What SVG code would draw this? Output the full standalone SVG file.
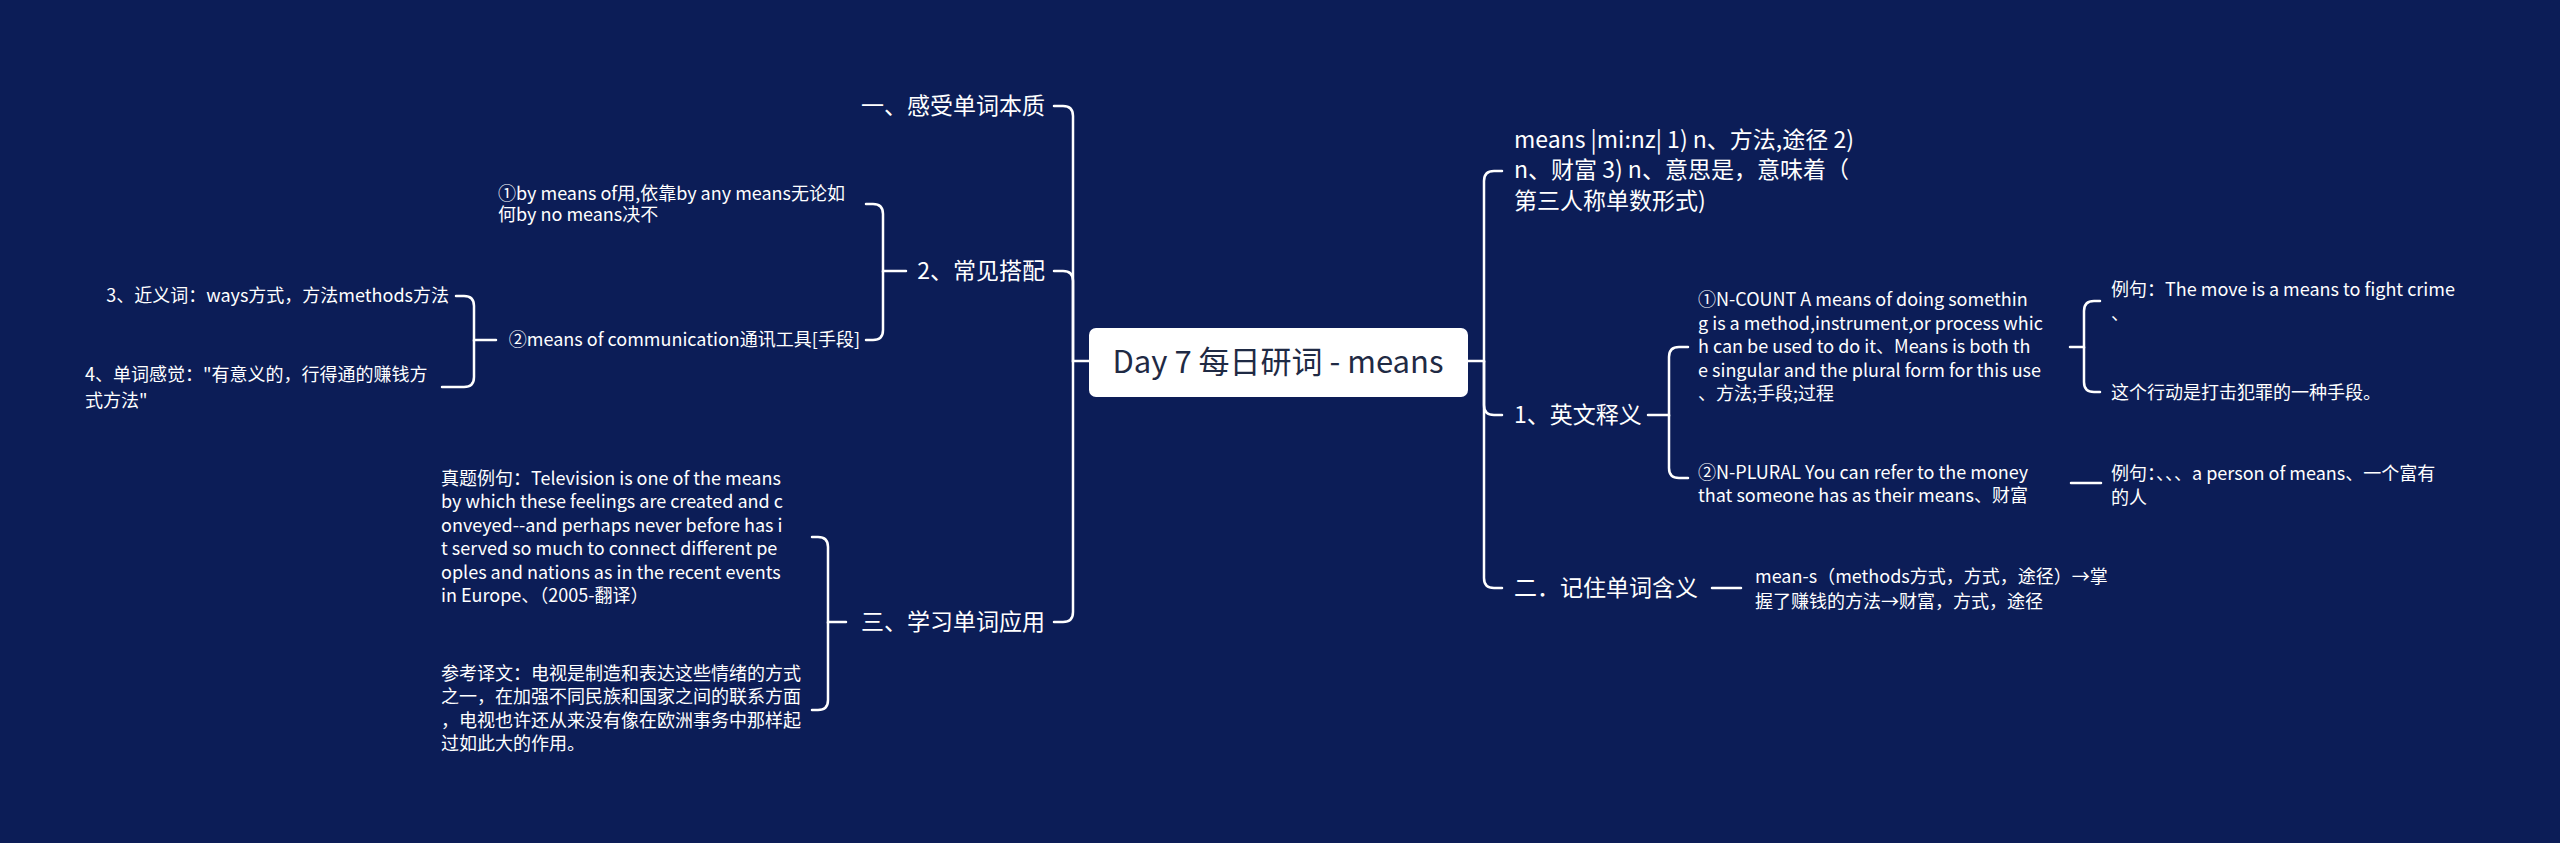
<svg xmlns="http://www.w3.org/2000/svg" width="2560" height="843" viewBox="0 0 2560 843">
<style>
.bg{fill:#0c1d57}
.c path{fill:none;stroke:#ffffff;stroke-width:2.5;stroke-linecap:round}
text{font-family:"Noto Sans CJK SC","Noto Sans",sans-serif;fill:#ffffff}
.l{font-size:23px}
.s{font-size:18px}
.e{text-anchor:end}
</style>
<rect class="bg" width="2560" height="843"/>
<g class="c">
<path d="M1089 361H1073V116Q1073 106 1063 106H1054"/>
<path d="M1073 361V281Q1073 271 1063 271H1054"/>
<path d="M1073 361V612Q1073 622 1063 622H1054"/>
<path d="M906 271H883V214Q883 204 873 204H866"/>
<path d="M883 271V330Q883 340 873 340H866"/>
<path d="M496 340H474V306Q474 296 464 296H456"/>
<path d="M474 340V377Q474 387 464 387H442"/>
<path d="M846 622H828V547Q828 537 818 537H812"/>
<path d="M828 622V700Q828 710 818 710H812"/>
<path d="M1468 361H1484V181Q1484 171 1494 171H1502"/>
<path d="M1484 361V405Q1484 415 1494 415H1502"/>
<path d="M1484 361V578Q1484 588 1494 588H1502"/>
<path d="M1648 415H1669V357Q1669 347 1679 347H1688"/>
<path d="M1669 415V468Q1669 478 1679 478H1688"/>
<path d="M2070 347H2084V311Q2084 301 2094 301H2100"/>
<path d="M2084 347V382Q2084 392 2094 392H2100"/>
<path d="M2071 483H2101"/>
<path d="M1712 588H1741"/>
</g>
<g id="center">
<rect x="1089" y="328" width="379" height="69" rx="7" fill="#ffffff"/>
<text x="1278" y="373" font-size="31" text-anchor="middle" style="fill:#1f2a44">Day 7 每日研词 - means</text>
</g>
<g id="n1"><text class="l e" x="1045" y="114">一、感受单词本质</text></g>
<g id="n2"><text class="l e" x="1045" y="279">2、常见搭配</text></g>
<g id="n2a"><text class="s" x="498" y="200">①by means of用,依靠by any means无论如</text><text class="s" x="498" y="221">何by no means决不</text></g>
<g id="n2b"><text class="s e" x="860" y="346">②means of communication通讯工具[手段]</text></g>
<g id="n2b1"><text class="s e" x="449" y="302">3、近义词：ways方式，方法methods方法</text></g>
<g id="n2b2"><text class="s" x="85" y="381">4、单词感觉："有意义的，行得通的赚钱方</text><text class="s" x="85" y="407">式方法"</text></g>
<g id="n3"><text class="l e" x="1045" y="630">三、学习单词应用</text></g>
<g id="n3a"><text class="s" x="441" y="485">真题例句：Television is one of the means</text><text class="s" x="441" y="508">by which these feelings are created and c</text><text class="s" x="441" y="532">onveyed--and perhaps never before has i</text><text class="s" x="441" y="555">t served so much to connect different pe</text><text class="s" x="441" y="579">oples and nations as in the recent events</text><text class="s" x="441" y="602">in Europe、（2005-翻译）</text></g>
<g id="n3b"><text class="s" x="441" y="680">参考译文：电视是制造和表达这些情绪的方式</text><text class="s" x="441" y="703">之一，在加强不同民族和国家之间的联系方面</text><text class="s" x="441" y="727">，电视也许还从来没有像在欧洲事务中那样起</text><text class="s" x="441" y="750">过如此大的作用。</text></g>
<g id="r1"><text class="l" x="1514" y="148">means |mi:nz| 1) n、方法,途径 2)</text><text class="l" x="1514" y="178">n、财富 3) n、意思是，意味着（</text><text class="l" x="1514" y="209">第三人称单数形式)</text></g>
<g id="r2"><text class="l" x="1514" y="423">1、英文释义</text></g>
<g id="r2a"><text class="s" x="1698" y="306">①N-COUNT A means of doing somethin</text><text class="s" x="1698" y="330">g is a method,instrument,or process whic</text><text class="s" x="1698" y="353">h can be used to do it、Means is both th</text><text class="s" x="1698" y="377">e singular and the plural form for this use</text><text class="s" x="1698" y="400">、方法;手段;过程</text></g>
<g id="r2a1"><text class="s" x="2111" y="296">例句：The move is a means to fight crime</text><text class="s" x="2111" y="320">、</text></g>
<g id="r2a2"><text class="s" x="2111" y="399">这个行动是打击犯罪的一种手段。</text></g>
<g id="r2b"><text class="s" x="1698" y="479">②N-PLURAL You can refer to the money</text><text class="s" x="1698" y="502">that someone has as their means、财富</text></g>
<g id="r2b1"><text class="s" x="2111" y="480">例句：、、、a person of means、一个富有</text><text class="s" x="2111" y="504">的人</text></g>
<g id="r3"><text class="l" x="1514" y="596">二．记住单词含义</text></g>
<g id="r3a"><text class="s" x="1755" y="583">mean-s（methods方式，方式，途径）→掌</text><text class="s" x="1755" y="608">握了赚钱的方法→财富，方式，途径</text></g>
</svg>
